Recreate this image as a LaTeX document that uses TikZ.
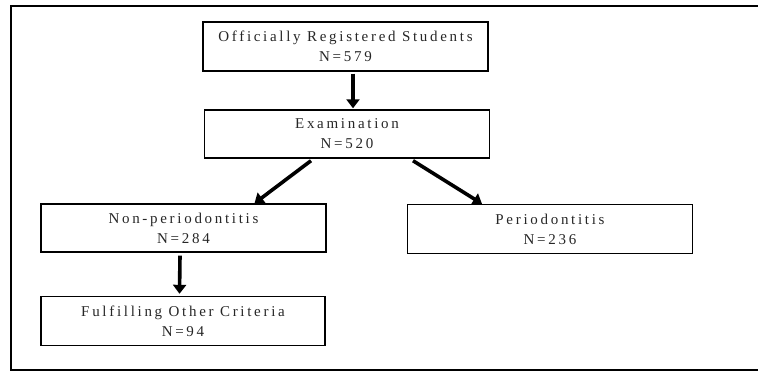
\documentclass[tikz,border=0pt]{standalone}
\usepackage{fontspec}
\setmainfont{Liberation Serif}
\newfontfamily\boxfont[LetterSpace=18]{Liberation Serif}
\usetikzlibrary{arrows.meta}
\tikzset{
  box/.style={draw=black, line width=1.4pt, minimum width=285pt, minimum height=49pt,
    inner sep=0pt, align=center, font=\boxfont\fontsize{15}{20}\selectfont, text=black!85},
  flow/.style={line width=3.6pt, -{Triangle[width=13pt,length=9pt]}},
  frame/.style={line width=2pt}
}
\begin{document}
\begin{tikzpicture}[x=1pt,y=-1pt]
\useasboundingbox (0,0) rectangle (758,372);
\coordinate (ftr) at (758,6);
\coordinate (ftl) at (11,6);
\coordinate (fbl) at (11,370);
\coordinate (fbr) at (758,370);
\draw[frame] (ftr) -- (ftl) -- (fbl) -- (fbr);
\node[box] (reg) at (345.5,46.5) {Officially Registered Students\\N=579};
\node[box, minimum height=48pt] (exam) at (347,134) {Examination\\N=520};
\node[box, minimum height=48pt] (non) at (183.5,228) {Non-periodontitis\\N=284};
\node[box] (per) at (550,229) {Periodontitis\\N=236};
\node[box, minimum width=284pt] (ful) at (183,321) {Fulfilling Other Criteria\\N=94};
\draw[flow] ([xshift=7.5pt,yshift=-2pt]reg.south) -- ([xshift=6pt,yshift=1pt]exam.north);
\draw[flow] ([xshift=-36pt,yshift=-2pt]exam.south) -- ([xshift=71pt,yshift=0pt]non.north);
\draw[flow] ([xshift=66pt,yshift=-2pt]exam.south) -- ([xshift=-68pt,yshift=0pt]per.north);
\draw[flow] ([xshift=-3.5pt,yshift=-3pt]non.south) -- ([xshift=-3.5pt,yshift=2pt]ful.north);
\end{tikzpicture}
\end{document}
